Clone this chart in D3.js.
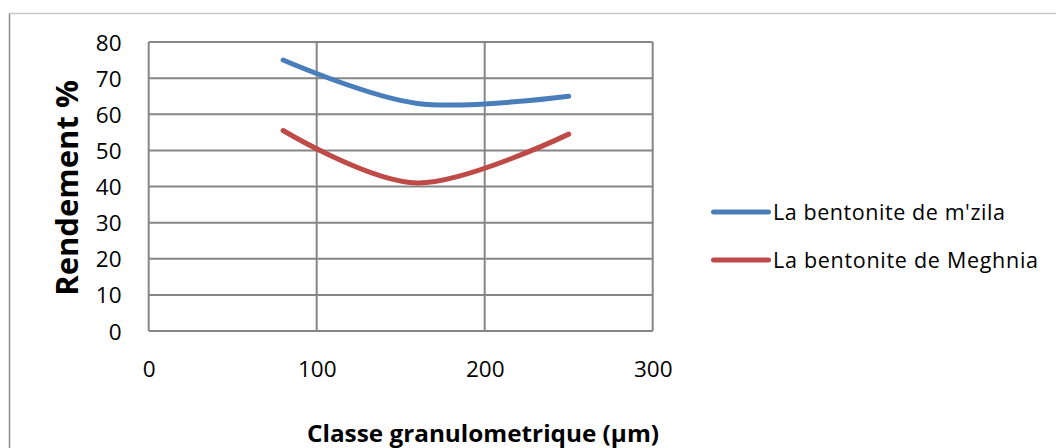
<!DOCTYPE html>
<html>
<head>
<meta charset="utf-8">
<script src="https://cdn.jsdelivr.net/npm/d3@7"></script>
<style>
  html, body { margin: 0; padding: 0; background: #fff; }
  svg { display: block; }
  text { font-family: "Open Sans", "Noto Sans", sans-serif; fill: #000; }
</style>
</head>
<body>
<svg id="chart" width="1056" height="448"></svg>
<script>
// ---- data ----
const xValues = [80, 160, 250];
const seriesNames = ["La bentonite de m'zila", "La bentonite de Meghnia"];
const mzilaValues = [75, 63, 65];
const meghniaValues = [55.5, 41, 54.5];
const xTicks = [0, 100, 200, 300];
const yTicks = [0, 10, 20, 30, 40, 50, 60, 70, 80];
const xTitle = "Classe granulometrique (µm)";
const yTitle = "Rendement %";
const colors = ["#4a7ebb", "#be4b48"];

const svg = d3.select("#chart");
const W = 1056, H = 448;

// outer frame
svg.append("line").attr("x1", 9.5).attr("x2", W).attr("y1", 13.5).attr("y2", 13.5)
  .attr("stroke", "#c8c8c8").attr("stroke-width", 1.5);
svg.append("line").attr("x1", 9.5).attr("x2", 9.5).attr("y1", 13.5).attr("y2", H)
  .attr("stroke", "#8c8c8c").attr("stroke-width", 1.5);

const x = d3.scaleLinear().domain([0, 300]).range([148.7, 652.7]);
const y = d3.scaleLinear().domain([0, 80]).range([331, 42]);

const grid = svg.append("g");
grid.selectAll("line.h").data(yTicks).join("line").attr("class", "h")
  .attr("x1", x(0)).attr("x2", x(300))
  .attr("y1", d => y(d)).attr("y2", d => y(d))
  .attr("stroke", "#868686").attr("stroke-width", 2);
grid.selectAll("line.v").data(xTicks).join("line").attr("class", "v")
  .attr("x1", d => x(d)).attr("x2", d => x(d))
  .attr("y1", y(0)).attr("y2", y(80))
  .attr("stroke", "#868686").attr("stroke-width", 2);

const yAxis = d3.axisLeft(y).tickValues(yTicks).tickSize(0).tickPadding(0).tickFormat(d3.format("d"));
const gy = svg.append("g").attr("transform", `translate(${121.5},0)`).call(yAxis);
gy.select(".domain").remove();
gy.selectAll("text").attr("font-size", 22.5).attr("font-family", "'Open Sans'").attr("fill", "#000")
  .attr("dy", "0.36em").attr("x", 0);

const xAxis = d3.axisBottom(x).tickValues(xTicks).tickSize(0).tickPadding(0).tickFormat(d3.format("d"));
const gx = svg.append("g").attr("transform", `translate(0,${358})`).call(xAxis);
gx.select(".domain").remove();
gx.selectAll("text").attr("font-size", 22.5).attr("font-family", "'Open Sans'").attr("fill", "#000")
  .attr("dy", "0.85em").attr("y", 0);

const line = d3.line().x(d => x(d[0])).y(d => y(d[1])).curve(d3.curveCardinal.tension(0));
const allSeries = [mzilaValues, meghniaValues];
allSeries.forEach((vals, i) => {
  svg.append("path")
    .datum(xValues.map((xv, j) => [xv, vals[j]]))
    .attr("d", line)
    .attr("fill", "none")
    .attr("stroke", colors[i])
    .attr("stroke-width", 5)
    .attr("stroke-linecap", "round");
});

// legend
const legY = [212, 260];
const legLen = [232, 265];
seriesNames.forEach((name, i) => {
  svg.append("line").attr("x1", 713.5).attr("x2", 768.5).attr("y1", legY[i]).attr("y2", legY[i])
    .attr("stroke", colors[i]).attr("stroke-width", 5).attr("stroke-linecap", "round");
  svg.append("text").attr("x", 773).attr("y", legY[i]).attr("dy", "0.36em")
    .attr("font-size", 21.5)
    .attr("textLength", legLen[i]).attr("lengthAdjust", "spacing")
    .text(name);
});

// axis titles
svg.append("text").attr("x", 483).attr("y", 442)
  .attr("text-anchor", "middle").attr("font-weight", "bold").attr("font-size", 24)
  .attr("textLength", 352).attr("lengthAdjust", "spacingAndGlyphs")
  .text(xTitle);
svg.append("text").attr("transform", `translate(78,188) rotate(-90)`)
  .attr("text-anchor", "middle").attr("font-weight", "bold").attr("font-size", 31)
  .text(yTitle);
</script>
</body>
</html>
